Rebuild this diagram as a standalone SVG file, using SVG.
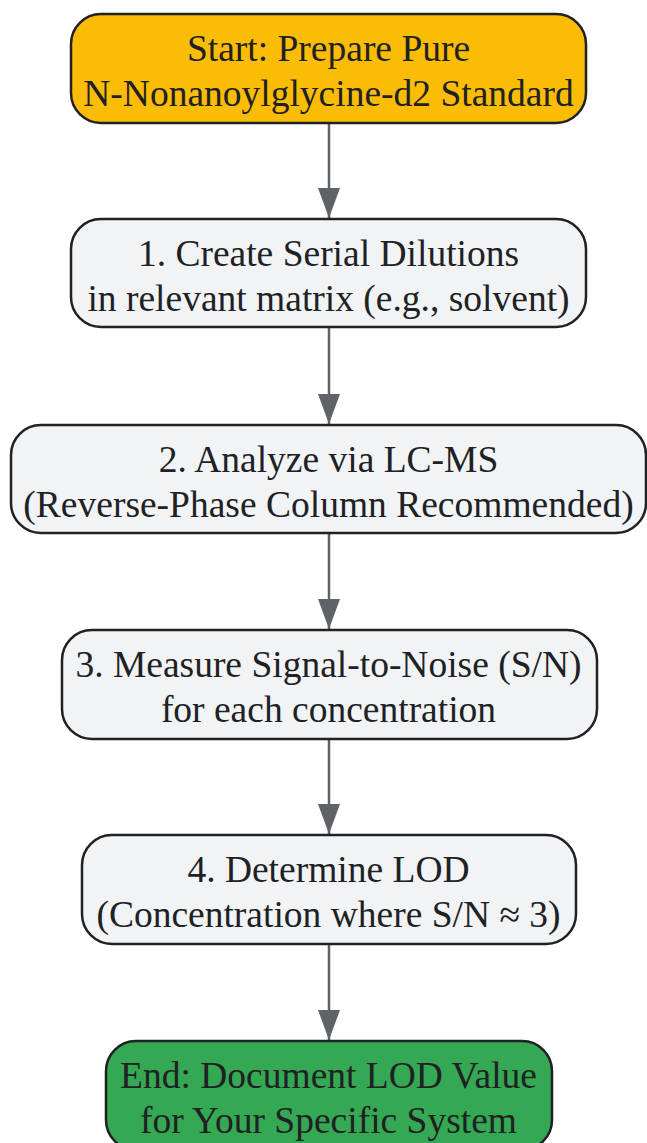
<svg xmlns="http://www.w3.org/2000/svg" width="647" height="1143" viewBox="0 0 647 1143">
<defs>
<style>
.n{stroke:#202124;stroke-width:2.5}
.g{fill:#F1F3F4}
.t{font-family:"Liberation Serif","Times New Roman",serif;font-size:37.5px;fill:#202124;text-anchor:middle}
.e{stroke:#5F6368;stroke-width:2.5;fill:none}
</style>
<marker id="ah" viewBox="0 0 30 22" refX="30" refY="11" markerUnits="userSpaceOnUse" markerWidth="30" markerHeight="22" orient="auto">
<path d="M0,0 L30,11 L0,22 Z" fill="#5F6368"/>
</marker>
</defs>
<rect width="647" height="1143" fill="#ffffff"/>
<g id="edges">
<line class="e" x1="329" y1="123" x2="329" y2="218" marker-end="url(#ah)"/>
<line class="e" x1="329" y1="327" x2="329" y2="424" marker-end="url(#ah)"/>
<line class="e" x1="329" y1="533" x2="329" y2="629" marker-end="url(#ah)"/>
<line class="e" x1="329" y1="739" x2="329" y2="834" marker-end="url(#ah)"/>
<line class="e" x1="329" y1="944" x2="329" y2="1040" marker-end="url(#ah)"/>
</g>
<g id="start">
<rect class="n" x="71" y="14" width="515" height="109" rx="30" fill="#FBBC05"/>
<text class="t" x="328.5" y="61">Start: Prepare Pure</text>
<text class="t" x="328.5" y="106">N-Nonanoylglycine-d2 Standard</text>
</g>
<g id="step1">
<rect class="n g" x="71" y="219" width="515" height="108" rx="30"/>
<text class="t" x="328.5" y="266">1. Create Serial Dilutions</text>
<text class="t" x="328.5" y="311">in relevant matrix (e.g., solvent)</text>
</g>
<g id="step2">
<rect class="n g" x="11" y="425" width="635" height="108" rx="30"/>
<text class="t" x="328.5" y="472">2. Analyze via LC-MS</text>
<text class="t" x="328.5" y="517">(Reverse-Phase Column Recommended)</text>
</g>
<g id="step3">
<rect class="n g" x="62" y="630" width="535" height="109" rx="30"/>
<text class="t" x="328.5" y="677">3. Measure Signal-to-Noise (S/N)</text>
<text class="t" x="328.5" y="722">for each concentration</text>
</g>
<g id="step4">
<rect class="n g" x="82" y="835" width="494" height="109" rx="30"/>
<text class="t" x="328.5" y="882">4. Determine LOD</text>
<text class="t" x="328.5" y="927">(Concentration where S/N ≈ 3)</text>
</g>
<g id="end">
<rect class="n" x="106" y="1041" width="446" height="109" rx="30" fill="#34A853"/>
<text class="t" x="328.5" y="1088">End: Document LOD Value</text>
<text class="t" x="328.5" y="1133">for Your Specific System</text>
</g>
</svg>
